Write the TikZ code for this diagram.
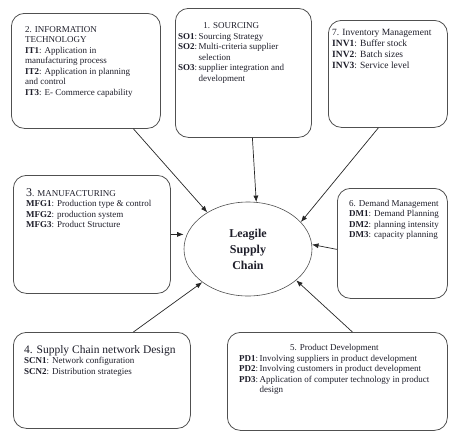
\documentclass[tikz,border=0pt]{standalone}
\usepackage{fontspec}
\setmainfont{Liberation Serif}
\usepackage{xcolor}
\usepackage{tikz}
\usetikzlibrary{arrows.meta,positioning,shapes.geometric}
\definecolor{ink}{HTML}{1E1E2A}
\definecolor{edgegray}{HTML}{505050}

\begin{document}
\begin{tikzpicture}[x=1pt, y=-1pt,
  box/.style={draw=edgegray, line width=0.8pt, rounded corners=13pt, anchor=north west, inner sep=0pt},
  txt/.style={anchor=north west, inner sep=0pt, text=ink, align=left, font=\fontsize{9}{10.5}\selectfont},
  arr/.style={draw=black!85, line width=0.7pt, -{Latex[length=6.5pt,width=5pt]}}]
\useasboundingbox (0,0) rectangle (451,432);
% the seven boxes
\node[box, minimum width=149pt, minimum height=115pt] (it)  at (11,13)  {};
\node[box, minimum width=136pt, minimum height=129pt] (so)  at (175,8)  {};
\node[box, minimum width=119pt, minimum height=107pt] (inv) at (328,20) {};
\node[box, minimum width=157pt, minimum height=118pt] (mfg) at (13,175) {};
\node[box, minimum width=110pt, minimum height=110pt] (dm)  at (337,188) {};
\node[box, minimum width=177pt, minimum height=96pt]  (scn) at (13,332) {};
\node[box, minimum width=220pt, minimum height=98pt]  (pd)  at (227,332) {};
% centre
\node[draw=edgegray, line width=0.6pt, ellipse, minimum width=128pt, minimum height=94pt,
  inner sep=0pt, align=center, text=ink, font=\fontsize{12}{16}\selectfont\bfseries]
  (lsc) at (248,249) {Leagile\\Supply\\Chain};
% box texts
\node[txt] (itT) at (25,26) {2. INFORMATION\\TECHNOLOGY\\\textbf{IT1}: Application in\\manufacturing process\\
  \textbf{IT2}: Application in planning\\and control\\\textbf{IT3}: E- Commerce capability};
\node[txt] (soT) at (178,21) {\begin{tabular}{@{}l@{\,}l@{}}
  \multicolumn{2}{c}{1. SOURCING}\\
  \textbf{SO1}: & Sourcing Strategy\\
  \textbf{SO2}: & Multi-criteria supplier\\
   & selection\\
  \textbf{SO3}: & supplier integration and\\
   & development
  \end{tabular}};
\node[txt, font=\fontsize{9.5}{11}\selectfont] (invT) at (332,29) {7. Inventory Management\\\textbf{INV1}: Buffer stock\\
  \textbf{INV2}: Batch sizes\\\textbf{INV3}: Service level};
\node[txt] (mfgT) at (26,188) {{\large 3}. MANUFACTURING\\\textbf{MFG1}: Production type \& control\\
  \textbf{MFG2}: production system\\\textbf{MFG3}: Product Structure};
\node[txt] (dmT) at (349,200) {6. Demand Management\\\textbf{DM1}: Demand Planning\\
  \textbf{DM2}: planning intensity\\\textbf{DM3}: capacity planning};
\node[txt] (scnT) at (24,345) {{\fontsize{11.5}{13}\selectfont 4. Supply Chain network Design}\\
  \textbf{SCN1}: Network configuration\\\textbf{SCN2}: Distribution strategies};
\node[txt] (pdT) at (239,343) {\begin{tabular}{@{}l@{\,}l@{}}
  \multicolumn{2}{c}{5. Product Development}\\
  \textbf{PD1}: & Involving suppliers in product development\\
  \textbf{PD2}: & Involving customers in product development\\
  \textbf{PD3}: & Application of computer technology in product\\
   & design
  \end{tabular}};
% arrows into the centre
\draw[arr] ([xshift=47.5pt]it.south) -- (lsc.138);
\draw[arr] ([xshift=9pt]so.south) -- (lsc.80);
\draw[arr] ([xshift=-9.5pt]inv.south) -- (lsc.27);
\draw[arr] (mfg.east) -- (mfg.east -| lsc.west);
\draw[arr] ([yshift=-6pt]dm.west) -- (lsc.4);
\draw[arr] ([xshift=31.5pt]scn.north) -- (lsc.216);
\draw[arr] ([xshift=15pt]pd.north) -- (lsc.327);
\end{tikzpicture}
\end{document}
